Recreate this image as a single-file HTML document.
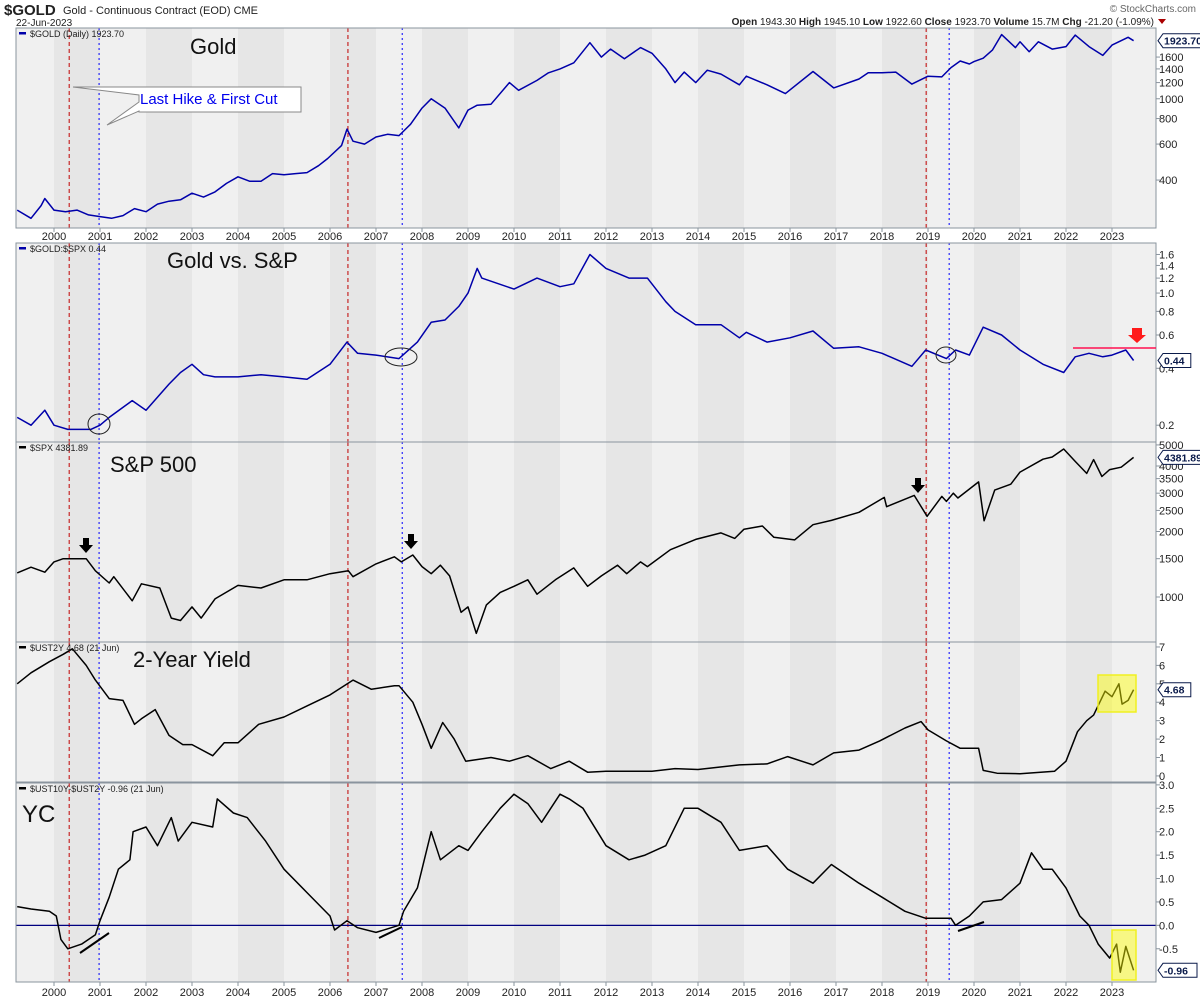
<!DOCTYPE html>
<html><head><meta charset="utf-8"><style>
body{margin:0;background:#fff;}
svg{display:block;font-family:"Liberation Sans",sans-serif;}
</style></head><body>
<svg id="c" width="1200" height="1000" viewBox="0 0 1200 1000" xmlns="http://www.w3.org/2000/svg">
<g>
<text x="4" y="15" font-size="15" font-weight="bold" fill="#222">$GOLD</text>
<text x="63" y="14" font-size="11" fill="#222">Gold - Continuous Contract (EOD)  CME</text>
<text x="16" y="26" font-size="10" fill="#222">22-Jun-2023</text>
<text x="1196" y="12" font-size="10" fill="#666" text-anchor="end">© StockCharts.com</text>
<text x="1154" y="25" font-size="10" fill="#222" text-anchor="end"><tspan font-weight="bold">Open</tspan> 1943.30 <tspan font-weight="bold">High</tspan> 1945.10 <tspan font-weight="bold">Low</tspan> 1922.60 <tspan font-weight="bold">Close</tspan> 1923.70 <tspan font-weight="bold">Volume</tspan> 15.7M <tspan font-weight="bold">Chg</tspan> -21.20 (-1.09%)</text>
<path d="M1158 19 L1166 19 L1162 24 Z" fill="#a00"/>
</g>
<g id="root"></g>
</svg>
<script>
// ---- data (decimal year, value) ----
const goldT=[1999.2,1999.5,1999.72,1999.8,2000.0,2000.25,2000.5,2000.75,2001.0,2001.25,2001.5,2001.75,2002.0,2002.25,2002.5,2002.75,2003.0,2003.25,2003.5,2003.75,2004.0,2004.25,2004.5,2004.75,2005.0,2005.25,2005.5,2005.75,2005.95,2006.25,2006.37,2006.5,2006.75,2007.0,2007.25,2007.5,2007.75,2008.0,2008.2,2008.5,2008.8,2009.0,2009.2,2009.5,2009.9,2010.1,2010.5,2010.75,2011.0,2011.3,2011.65,2011.9,2012.1,2012.4,2012.75,2013.0,2013.3,2013.5,2013.7,2013.95,2014.2,2014.5,2014.9,2015.05,2015.5,2015.9,2016.5,2016.95,2017.5,2017.7,2018.0,2018.3,2018.65,2019.0,2019.3,2019.5,2019.7,2019.9,2020.0,2020.2,2020.4,2020.6,2020.9,2021.0,2021.2,2021.4,2021.7,2022.0,2022.2,2022.5,2022.8,2023.0,2023.35,2023.47];
const goldV=[285,260,300,325,285,280,285,270,265,260,268,290,280,305,315,320,345,330,350,385,415,395,395,430,425,430,435,470,510,590,710,620,600,650,670,660,750,900,1000,900,720,880,930,940,1200,1100,1230,1340,1400,1500,1880,1600,1750,1570,1780,1670,1400,1200,1350,1200,1380,1320,1170,1290,1170,1060,1360,1130,1250,1340,1340,1350,1180,1290,1280,1420,1530,1480,1520,1580,1730,2060,1780,1900,1700,1900,1750,1800,2050,1800,1630,1830,2000,1924];
const ratioT=[1999.2,1999.5,1999.8,2000.0,2000.3,2000.8,2001.0,2001.2,2001.7,2002.0,2002.5,2002.75,2003.0,2003.25,2003.5,2004.0,2004.5,2005.0,2005.5,2006.0,2006.37,2006.6,2007.0,2007.5,2007.9,2008.2,2008.5,2008.8,2009.0,2009.2,2009.3,2010.0,2010.5,2011.0,2011.3,2011.65,2012.0,2012.5,2012.9,2013.3,2013.5,2013.95,2014.5,2014.9,2015.05,2015.5,2016.0,2016.5,2016.95,2017.5,2018.0,2018.65,2018.95,2019.4,2019.6,2019.9,2020.2,2020.6,2021.0,2021.5,2021.95,2022.2,2022.5,2022.8,2023.0,2023.3,2023.47];
const ratioV=[0.22,0.20,0.24,0.20,0.19,0.19,0.20,0.22,0.27,0.24,0.33,0.38,0.42,0.37,0.36,0.36,0.37,0.36,0.35,0.42,0.55,0.48,0.47,0.45,0.55,0.70,0.72,0.85,1.0,1.35,1.2,1.05,1.2,1.08,1.12,1.6,1.35,1.2,1.2,0.9,0.8,0.68,0.68,0.58,0.62,0.55,0.58,0.63,0.51,0.52,0.48,0.41,0.50,0.45,0.50,0.47,0.66,0.60,0.50,0.42,0.38,0.46,0.48,0.46,0.47,0.50,0.44];
const spxT=[1999.2,1999.5,1999.8,2000.0,2000.2,2000.7,2000.9,2001.2,2001.3,2001.7,2001.9,2002.3,2002.55,2002.75,2003.0,2003.2,2003.5,2004.0,2004.5,2005.0,2005.5,2006.0,2006.4,2006.5,2007.0,2007.4,2007.55,2007.8,2008.0,2008.2,2008.4,2008.6,2008.85,2009.0,2009.18,2009.4,2009.7,2010.0,2010.3,2010.5,2010.9,2011.3,2011.6,2011.9,2012.25,2012.45,2012.75,2012.9,2013.4,2013.95,2014.5,2014.8,2015.0,2015.4,2015.65,2016.1,2016.5,2016.9,2017.5,2018.05,2018.1,2018.7,2018.98,2019.3,2019.4,2019.55,2019.65,2020.1,2020.22,2020.45,2020.8,2021.0,2021.5,2021.7,2021.95,2022.2,2022.45,2022.6,2022.78,2022.95,2023.2,2023.47];
const spxV=[1290,1370,1300,1450,1500,1500,1320,1160,1240,960,1150,1100,800,780,900,800,980,1130,1100,1200,1200,1280,1320,1240,1420,1530,1450,1560,1380,1280,1400,1250,850,900,680,920,1050,1120,1200,1030,1200,1360,1120,1250,1400,1280,1450,1380,1650,1840,1970,1860,2050,2120,1880,1830,2150,2250,2450,2870,2600,2930,2350,2900,2750,3000,2850,3380,2240,3100,3300,3750,4300,4400,4790,4200,3700,4280,3580,3850,3950,4382];
const y2T=[1999.2,1999.5,1999.9,2000.2,2000.4,2000.7,2000.9,2001.2,2001.5,2001.75,2001.9,2002.2,2002.5,2002.8,2003.0,2003.45,2003.7,2004.0,2004.45,2005.0,2005.5,2006.0,2006.5,2006.9,2007.4,2007.5,2007.8,2008.0,2008.2,2008.45,2008.7,2008.95,2009.5,2009.9,2010.3,2010.8,2011.2,2011.6,2012.0,2013.0,2013.5,2014.0,2014.9,2015.5,2015.95,2016.5,2016.95,2017.5,2017.95,2018.5,2018.85,2019.0,2019.4,2019.7,2020.1,2020.2,2020.5,2021.0,2021.75,2022.0,2022.25,2022.45,2022.6,2022.85,2023.0,2023.15,2023.22,2023.35,2023.47];
const y2V=[5.0,5.6,6.2,6.6,6.9,6.0,5.2,4.2,4.1,2.8,3.1,3.6,2.2,1.7,1.7,1.1,1.8,1.8,2.8,3.2,3.8,4.4,5.2,4.7,4.9,4.9,4.0,2.8,1.5,2.9,2.0,0.8,1.0,0.8,1.1,0.4,0.8,0.2,0.25,0.25,0.4,0.35,0.6,0.65,1.05,0.6,1.25,1.4,1.9,2.6,2.95,2.5,1.9,1.5,1.5,0.3,0.15,0.12,0.25,0.8,2.4,3.0,3.3,4.6,4.3,5.0,3.9,4.1,4.68];
const ycT=[1999.2,1999.5,1999.9,2000.05,2000.15,2000.3,2000.6,2000.9,2001.0,2001.2,2001.4,2001.65,2001.72,2002.0,2002.25,2002.55,2002.7,2003.0,2003.45,2003.55,2003.9,2004.2,2004.6,2005.0,2005.5,2006.0,2006.1,2006.37,2006.6,2007.0,2007.5,2007.6,2007.9,2008.2,2008.4,2008.8,2009.0,2009.3,2009.7,2010.0,2010.3,2010.6,2011.0,2011.2,2011.5,2012.0,2012.5,2012.85,2013.3,2013.7,2014.0,2014.5,2014.9,2015.5,2015.95,2016.5,2016.9,2017.5,2018.0,2018.5,2018.95,2019.5,2019.6,2019.9,2020.2,2020.6,2021.0,2021.25,2021.5,2021.7,2022.0,2022.3,2022.5,2022.7,2022.95,2023.1,2023.18,2023.3,2023.47];
const ycV=[0.4,0.35,0.3,0.2,-0.3,-0.5,-0.4,-0.2,0.1,0.6,1.2,1.4,2.0,2.1,1.7,2.3,1.8,2.2,2.1,2.7,2.4,2.3,1.8,1.2,0.7,0.2,-0.1,0.1,-0.05,-0.15,0.0,0.3,0.8,2.0,1.4,1.7,1.6,2.0,2.5,2.8,2.6,2.2,2.8,2.7,2.5,1.7,1.4,1.5,1.7,2.5,2.5,2.2,1.6,1.7,1.2,0.9,1.3,0.9,0.6,0.3,0.15,0.15,0.0,0.2,0.5,0.55,0.9,1.55,1.2,1.2,0.8,0.2,0.0,-0.4,-0.7,-0.4,-1.0,-0.45,-0.96];
const years=[2000,2001,2002,2003,2004,2005,2006,2007,2008,2009,2010,2011,2012,2013,2014,2015,2016,2017,2018,2019,2020,2021,2022,2023];
const redLines=[2000.33,2006.39,2018.96];
const blueLines=[2000.98,2007.57,2019.46];
const goldTicks=[400,600,800,1000,1200,1400,1600];
const ratioTicks=[0.2,0.4,0.6,0.8,1.0,1.2,1.4,1.6];
const spxTicks=[1000,1500,2000,2500,3000,3500,4000,5000];
const y2Ticks=[0,1,2,3,4,5,6,7];
const ycTicks=[-0.5,0.0,0.5,1.0,1.5,2.0,2.5,3.0];

const NS="http://www.w3.org/2000/svg";
const root=document.getElementById('root');
const L=16,R=1156;
function X(t){return 54+(t-2000)*46;}
function mk(tag,at,parent){const e=document.createElementNS(NS,tag);for(const k in at)e.setAttribute(k,at[k]);(parent||root).appendChild(e);return e;}
function logScale(top,bot,vTop,vBot){const a=Math.log(vTop),b=Math.log(vBot);return v=>bot-(Math.log(v)-b)/(a-b)*(bot-top);}
function linScale(top,bot,vTop,vBot){return v=>bot-(v-vBot)/(vTop-vBot)*(bot-top);}

const panels=[
 {name:'gold-panel',top:28,bot:228,y:logScale(28,228,2220,233),T:goldT,V:goldV,col:'#0000aa',ticks:goldTicks,fmt:v=>String(v),legend:'$GOLD (Daily) 1923.70',last:'1923.70'},
 {name:'gold-spx-ratio-panel',top:243,bot:442,y:logScale(243,442,1.84,0.163),T:ratioT,V:ratioV,col:'#0000aa',ticks:ratioTicks,fmt:v=>v.toFixed(1),legend:'$GOLD:$SPX 0.44',last:'0.44'},
 {name:'spx-panel',top:442,bot:642,y:logScale(442,642,5157,621),T:spxT,V:spxV,col:'#000',ticks:spxTicks,fmt:v=>String(v),legend:'$SPX 4381.89',last:'4381.89'},
 {name:'two-year-yield-panel',top:642,bot:782,y:linScale(642,782,7.27,-0.33),T:y2T,V:y2V,col:'#000',ticks:y2Ticks,fmt:v=>String(v),legend:'$UST2Y 4.68 (21 Jun)',last:'4.68'},
 {name:'yield-curve-panel',top:783,bot:982,y:linScale(783,982,3.04,-1.21),T:ycT,V:ycV,col:'#000',ticks:ycTicks,fmt:v=>v.toFixed(1),legend:'$UST10Y-$UST2Y -0.96 (21 Jun)',last:'-0.96'}
];

panels.forEach((p,pi)=>{
 const g=mk('g',{});
 
 
 const bg=mk('rect',{x:L,y:p.top,width:R-L,height:p.bot-p.top,fill:'#f0f0f0'},g);
 
 
 years.forEach(yr=>{
  if(yr%2===0){
   const x0=Math.max(L,X(yr)),x1=Math.min(R,X(yr+1));
   const b=mk('rect',{x:x0,y:p.top,width:x1-x0,height:p.bot-p.top,fill:'#e6e6e6'},g);
   
   
  }
 });
 redLines.forEach(t=>{const l=mk('line',{x1:X(t),x2:X(t),y1:p.top,y2:p.bot,stroke:'#c00000','stroke-width':1,'stroke-dasharray':'4,3'},g);
  
  });
 blueLines.forEach(t=>{const l=mk('line',{x1:X(t),x2:X(t),y1:p.top,y2:p.bot,stroke:'#0000ff','stroke-width':1,'stroke-dasharray':'2,3'},g);
  
  });
 if(pi===4){const z=mk('line',{x1:L,x2:R,y1:p.y(0),y2:p.y(0),stroke:'#000080','stroke-width':1.2},g);
  
  }
 const pts=p.T.map((t,i)=>X(t).toFixed(1)+','+p.y(p.V[i]).toFixed(1)).join(' ');
 const ln=mk('polyline',{points:pts,fill:'none',stroke:p.col,'stroke-width':1.5,'stroke-linejoin':'round'},g);
 
 
 const fr=mk('rect',{x:L,y:p.top,width:R-L,height:p.bot-p.top,fill:'none',stroke:'#8a949e','stroke-width':1},g);
 
 
 p.ticks.forEach(v=>{const yy=p.y(v);
  mk('line',{x1:R,x2:R+4,y1:yy,y2:yy,stroke:'#8a949e'},g);
  const t=mk('text',{x:R+3,y:yy+4,'font-size':11,fill:'#222'},g);t.textContent=p.fmt(v);
  
  });
 const lg=mk('text',{x:L+14,y:p.top+9,'font-size':9,fill:'#222'},g);lg.textContent=p.legend;
 
 
 mk('rect',{x:L+3,y:p.top+4,width:7,height:2.5,fill:p.col},g);
 const ly=p.y(p.V[p.V.length-1]);const w=p.last.length*6.2+3;
 const tag=mk('path',{d:`M${R+2} ${ly} L${R+7} ${ly-7} L${R+7+w} ${ly-7} L${R+7+w} ${ly+7} L${R+7} ${ly+7} Z`,fill:'#fff',stroke:'#0a1a4a','stroke-width':1},g);
 
 
 const tt=mk('text',{x:R+8,y:ly+4,'font-size':10.5,'font-weight':'bold',fill:'#0a1a4a'},g);tt.textContent=p.last;
 
 
});
// x-axis labels
[{y:240},{y:996}].forEach(a=>{
 years.forEach(yr=>{const t=mk('text',{x:X(yr),y:a.y,'font-size':11,fill:'#222','text-anchor':'middle'});t.textContent=yr;
  
  
  mk('line',{x1:X(yr),x2:X(yr),y1:a.y===240?228:982,y2:a.y===240?232:986,stroke:'#8a949e'});});
});
</script>
<svg width="1200" height="1000" style="position:absolute;left:0;top:0" xmlns="http://www.w3.org/2000/svg">
<text x="190" y="54" font-size="22" font-family="Liberation Sans,sans-serif" fill="#111">Gold</text>
<g>
<path d="M139 87 L73 87 L139 95 L139 102 L107 125 L139 111 L139 112 L301 112 L301 87 Z" fill="#fff" stroke="#888"/>
<text x="140" y="104" font-size="15" font-family="Liberation Sans,sans-serif" fill="#0000ee">Last Hike &amp; First Cut</text>
</g>
<text x="167" y="268" font-size="22" font-family="Liberation Sans,sans-serif" fill="#111">Gold vs. S&amp;P</text>
<ellipse cx="99" cy="424" rx="11" ry="10" fill="none" stroke="#222"/>
<ellipse cx="401" cy="357" rx="16" ry="9" fill="none" stroke="#222"/>
<ellipse cx="946" cy="355" rx="10" ry="8" fill="none" stroke="#222"/>
<line x1="1073" y1="348" x2="1156" y2="348" stroke="#ff1050" stroke-width="1.5"/>
<path d="M1132 328 L1142 328 L1142 335 L1146 335 L1137 343 L1128 335 L1132 335 Z" fill="#ff1a1a"/>
<text x="110" y="472" font-size="22" font-family="Liberation Sans,sans-serif" fill="#111">S&amp;P 500</text>
<path d="M83 538 L89 538 L89 545 L93 545 L86 553 L79 545 L83 545 Z" fill="#000"/>
<path d="M408 534 L414 534 L414 541 L418 541 L411 549 L404 541 L408 541 Z" fill="#000"/>
<path d="M915 478 L921 478 L921 485 L925 485 L918 493 L911 485 L915 485 Z" fill="#000"/>
<text x="133" y="667" font-size="22" font-family="Liberation Sans,sans-serif" fill="#111">2-Year Yield</text>
<rect x="1098" y="675" width="38" height="37" fill="#ffff00" fill-opacity="0.45" stroke="#f0f020" stroke-width="1.5"/>
<text x="22" y="822" font-size="24" font-family="Liberation Sans,sans-serif" fill="#111">YC</text>
<rect x="1112" y="930" width="24" height="50" fill="#ffff00" fill-opacity="0.45" stroke="#f0f020" stroke-width="1.5"/>
<line x1="80" y1="953" x2="109" y2="933" stroke="#000" stroke-width="2"/>
<line x1="379" y1="938" x2="402" y2="927" stroke="#000" stroke-width="2"/>
<line x1="958" y1="931" x2="984" y2="922" stroke="#000" stroke-width="2"/>
</svg>
</body></html>
